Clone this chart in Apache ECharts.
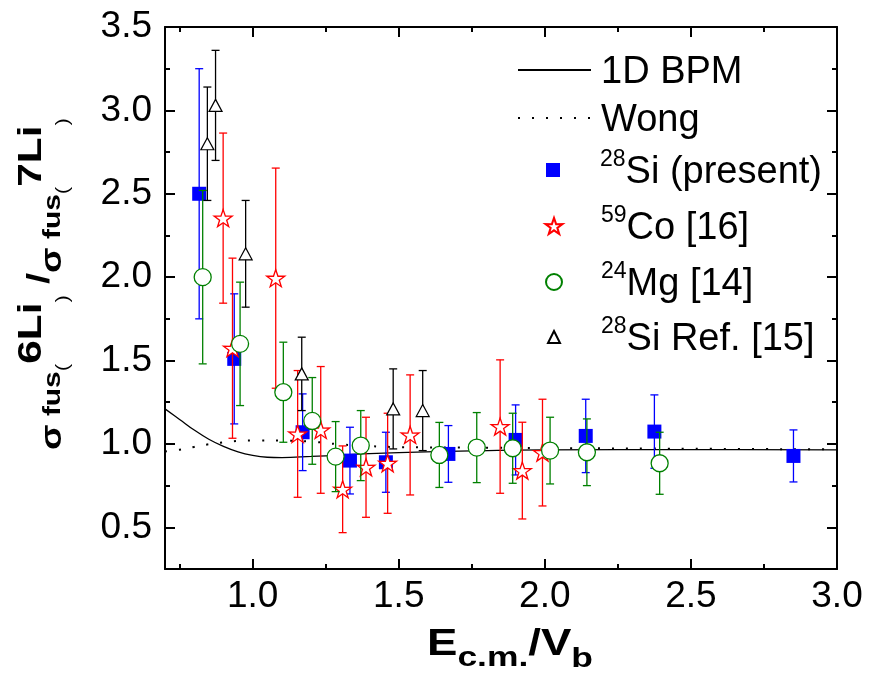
<!DOCTYPE html>
<html><head><meta charset="utf-8">
<script src="https://cdn.jsdelivr.net/npm/echarts@6/dist/echarts.min.js"></script>
<style>html,body{margin:0;padding:0;background:#fff}#c{width:881px;height:679px}</style>
</head><body><div id="c"></div>
<script>
// ---- data ----
const bpmX = [0.7,0.75,0.8,0.85,0.9,0.95,1.0,1.05,1.1,1.2,1.3,1.4,1.5,1.75,2.0,2.5,3.0];
const bpmY = [1.21,1.147,1.083,1.028,0.985,0.952,0.931,0.920,0.918,0.925,0.933,0.942,0.948,0.958,0.964,0.966,0.964];
const wongX = [0.7,0.75,0.8,0.85,0.9,0.95,1.0,1.1,1.2,1.3,1.4,1.5,1.75,2.0,2.5,3.0];
const wongY = [0.955,0.965,0.982,0.998,1.01,1.018,1.02,1.02,1.014,0.997,0.987,0.981,0.978,0.975,0.971,0.967];

const siX = [0.817,0.937,1.171,1.333,1.456,1.67,1.90,2.14,2.375,2.851];
const siY = [2.50,1.51,1.07,0.90,0.89,0.94,1.024,1.048,1.074,0.928];
const siErr = [0.75,0.39,0.23,0.20,0.18,0.17,0.21,0.22,0.22,0.156];

const coX = [0.899,0.931,1.079,1.154,1.233,1.308,1.388,1.462,1.539,1.847,1.923,1.992];
const coY = [2.354,1.574,1.994,1.06,1.084,0.728,0.86,0.884,1.054,1.104,0.84,0.948];
const coErr = [0.51,0.54,0.66,0.38,0.38,0.26,0.30,0.30,0.36,0.40,0.29,0.32];

const mgX = [0.829,0.957,1.105,1.204,1.284,1.37,1.639,1.767,1.89,2.018,2.144,2.393];
const mgY = [2.0,1.60,1.31,1.138,0.924,0.99,0.934,0.978,0.974,0.96,0.95,0.884];
const mgErr = [0.52,0.37,0.30,0.26,0.21,0.21,0.195,0.21,0.21,0.20,0.20,0.186];

const refX = [0.845,0.873,0.976,1.168,1.481,1.582];
const refY = [2.80,3.03,2.14,1.42,1.21,1.20];
const refErr = [0.34,0.33,0.32,0.22,0.24,0.24];

const xMajor = [1.0,1.5,2.0,2.5,3.0];
const xMinor = [0.75,1.25,1.75,2.25,2.75];
const yMajor = [0.5,1.0,1.5,2.0,2.5,3.0,3.5];
const yMinor = [0.75,1.25,1.75,2.25,2.75,3.25];

// ---- build ----
const FF = '"Liberation Sans", Arial, sans-serif';
const zip2 = (a,b) => a.map((v,i)=>[v,b[i]]);
const zip3 = (a,b,c) => a.map((v,i)=>[v,b[i],c[i]]);
const STAR = 'path://M50,0 L61.8,35.1 L97.6,34.5 L68.7,56 L79.4,90.5 L50,69.5 L20.6,90.5 L31.3,56 L2.4,34.5 L38.2,35.1 Z';

const mctx = document.createElement('canvas').getContext('2d');
function tw(txt, size, bold){ mctx.font = (bold?'bold ':'') + size + 'px ' + FF; return mctx.measureText(txt).width; }

function errRender(color){
  return function(params, api){
    const x = api.value(0), y = api.value(1), e = api.value(2);
    const t = api.coord([x, y+e]), b = api.coord([x, y-e]);
    const hw = 4;
    const st = {stroke: color, lineWidth: 1.3};
    return {type:'group', children:[
      {type:'line', shape:{x1:t[0],y1:t[1],x2:b[0],y2:b[1]}, style:st},
      {type:'line', shape:{x1:t[0]-hw,y1:t[1],x2:t[0]+hw,y2:t[1]}, style:st},
      {type:'line', shape:{x1:b[0]-hw,y1:b[1],x2:b[0]+hw,y2:b[1]}, style:st}
    ]};
  };
}
function errSeries(data, color, z){
  return {type:'custom', renderItem: errRender(color), data: data, z: z, silent:true,
    encode:{x:0, y:[1,2]}, clip:false};
}

function xAx(pos, ticks, len, line, labels){
  return {type:'value', min:0.7, max:3.0, position:pos,
    axisLine:{show:line, onZero:false, lineStyle:{color:'#000', width:2}},
    axisTick:{show:true, inside:true, length:len, customValues:ticks, lineStyle:{color:'#000', width:2}},
    axisLabel: labels ? {show:true, customValues:ticks, color:'#000', fontSize:37, fontFamily:FF, margin:9,
      formatter: v => Number(v).toFixed(1)} : {show:false},
    splitLine:{show:false}};
}
function yAx(pos, ticks, len, line, labels){
  return {type:'value', min:0.25, max:3.5, position:pos,
    axisLine:{show:line, onZero:false, lineStyle:{color:'#000', width:2}},
    axisTick:{show:true, inside:true, length:len, customValues:ticks, lineStyle:{color:'#000', width:2}},
    axisLabel: labels ? {show:true, customValues:ticks, color:'#000', fontSize:37, fontFamily:FF, margin:13,
      formatter: v => Number(v).toFixed(1)} : {show:false},
    splitLine:{show:false}};
}

const supFmt = name => {
  const m = name.match(/^(\d{2})([A-Z][a-z].*)$/);
  return m ? '{s|' + m[1] + '}{n|' + m[2] + '}' : '{n|' + name + '}';
};
function lg(name, left, top, w, h, pad, hideSym){
  const o = {show:true, data:[name], left:left, top:top, itemWidth:w, itemHeight:h, padding:0,
    selectedMode:false, formatter: supFmt,
    textStyle: {color:'#000', fontFamily:FF, fontSize:38, padding:[0,0,0,pad],
      rich:{ n:{fontSize:38, verticalAlign:'top', padding:[6,0,0,0], fontFamily:FF, color:'#000'},
             s:{fontSize:23, verticalAlign:'top', fontFamily:FF, color:'#000'} }}};
  if (hideSym) o.itemStyle = {opacity:0};
  return o;
}

// y-axis title pieces: [text, size, bold, screen-x of middle]
const yTitleParts = [
  ['σ',30,true,53],[' fus',24,true,53],['(',18,false,63],['6Li',34,true,32],[')',18,false,63],
  [' /',32,true,40],['σ',30,true,53],[' fus',24,true,53],['(',18,false,63],['7Li',34,true,32],[')',18,false,63]
];
function buildRotTitle(parts, ox, oy, span){
  let u = 0; const kids = [];
  parts.forEach(p => {
    kids.push({type:'text', x:u, y:p[3], silent:true,
      style:{text:p[0], font:(p[2]?'bold ':'') + p[1] + 'px ' + FF, fill:'#000', align:'left', verticalAlign:'middle'}});
    u += tw(p[0], p[1], p[2]);
  });
  return {type:'group', x:ox, y:oy, rotation:Math.PI/2, scaleX: span/u, children:kids, silent:true};
}
// x-axis title pieces: [text, size, bold, y of middle]
const xTitleParts = [['E',36,true,645],['c.m.',28,true,658],['/V',36,true,645],['b',28,true,659]];
function buildXTitle(parts, ox, span){
  let u = 0; const kids = [];
  parts.forEach(p => {
    kids.push({type:'text', x:u, y:p[3], silent:true,
      style:{text:p[0], font:(p[2]?'bold ':'') + p[1] + 'px ' + FF, fill:'#000', align:'left', verticalAlign:'middle'}});
    u += tw(p[0], p[1], p[2]);
  });
  return {type:'group', x:ox, y:0, scaleX: span/u, children:kids, silent:true};
}

const option = {
  animation:false,
  backgroundColor:'#fff',
  grid:{left:165, right:44, top:27, bottom:110, containLabel:false},
  xAxis:[ xAx('bottom', xMajor, 10, true, true), xAx('bottom', xMinor, 5, false, false),
          xAx('top', xMajor, 10, true, false), xAx('top', xMinor, 5, false, false) ],
  yAxis:[ yAx('left', yMajor, 10, true, true), yAx('left', yMinor, 5, false, false),
          yAx('right', yMajor, 10, true, false), yAx('right', yMinor, 5, false, false) ],
  legend:[
    lg('1D BPM', 517, 54, 73, 14, 5, true),
    lg('Wong', 517, 102, 73, 14, 5, true),
    lg('28Si (present)', 546, 148, 14, 14, 35),
    lg('59Co [16]', 544.5, 204, 17, 17, 33.5),
    lg('24Mg [14]', 545, 260, 16, 16, 34),
    lg('28Si Ref. [15]', 547, 315, 12, 12, 36)
  ],
  series:[
    {name:'1D BPM', type:'line', data: zip2(bpmX,bpmY), showSymbol:false, symbol:'none', smooth:0.4, z:1,
      lineStyle:{color:'#000', width:1.3}, itemStyle:{color:'#000'}},
    {name:'Wong', type:'line', data: zip2(wongX,wongY), showSymbol:false, symbol:'none', smooth:0.4, z:1,
      lineStyle:{color:'#000', width:2, type:[2,12]}, itemStyle:{color:'#000'}},
    errSeries(zip3(siX,siY,siErr), '#0000ff', 2),
    {name:'28Si (present)', type:'scatter', data: zip2(siX,siY), symbol:'rect', symbolSize:14, z:3,
      itemStyle:{color:'#0000ff', opacity:1}},
    errSeries(zip3(coX,coY,coErr), '#ff0000', 4),
    {name:'59Co [16]', type:'scatter', data: zip2(coX,coY), symbol:STAR, symbolSize:[18,17], z:5,
      itemStyle:{color:'#ffffff', borderColor:'#ff0000', borderWidth:1.3, opacity:1}},
    errSeries(zip3(mgX,mgY,mgErr), '#008000', 6),
    {name:'24Mg [14]', type:'scatter', data: zip2(mgX,mgY), symbol:'circle', symbolSize:17, z:7,
      itemStyle:{color:'#ffffff', borderColor:'#008000', borderWidth:1.3, opacity:1}},
    errSeries(zip3(refX,refY,refErr), '#000000', 8),
    {name:'28Si Ref. [15]', type:'scatter', data: zip2(refX,refY), symbol:'triangle', symbolSize:[13,12], z:9,
      itemStyle:{color:'#ffffff', borderColor:'#000000', borderWidth:1.2, opacity:1}}
  ],
  graphic:[ buildXTitle(xTitleParts, 427, 166), buildRotTitle(yTitleParts, 0, 450, 332) ]
};
const chart = echarts.init(document.getElementById('c'), null, {renderer:'canvas'});
chart.setOption(option);
</script></body></html>
